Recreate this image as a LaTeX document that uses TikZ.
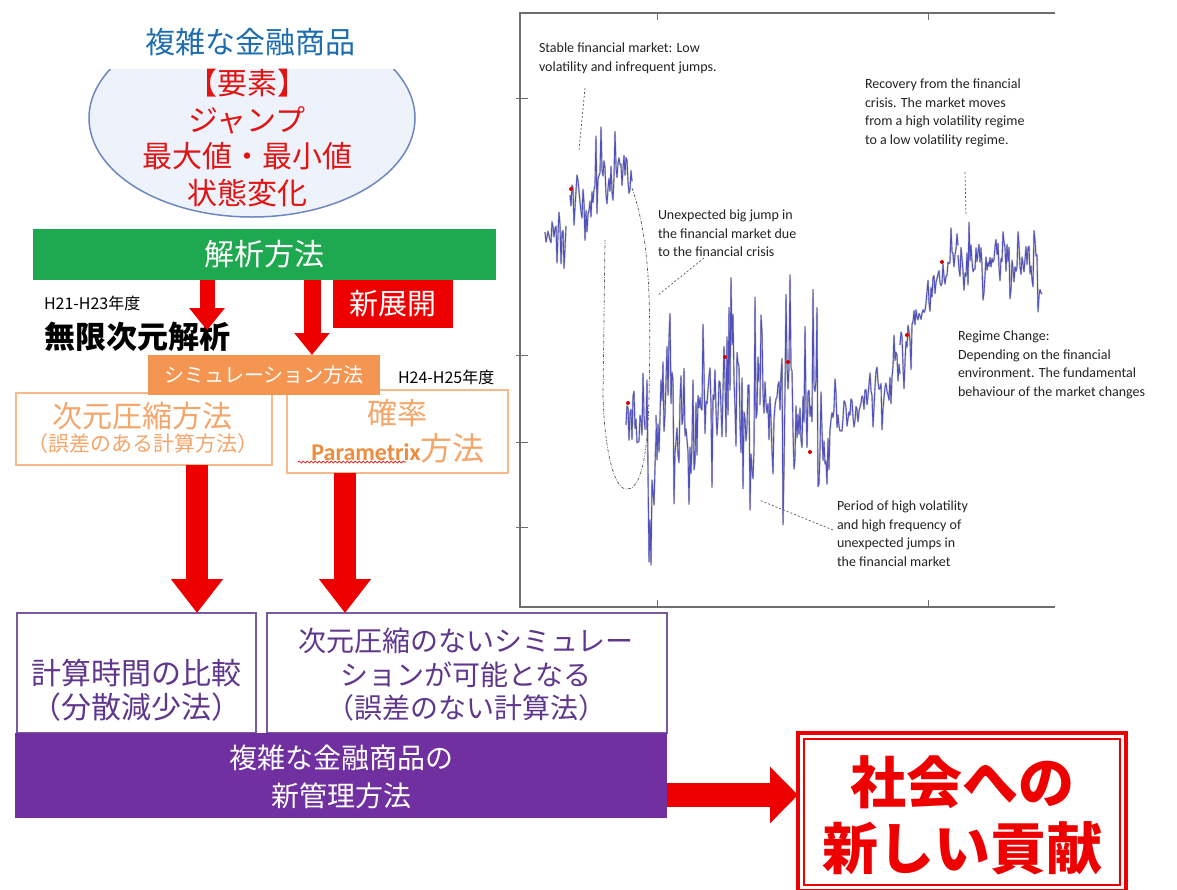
\documentclass[tikz,border=0pt]{standalone}
\usepackage{fontspec}
\setmainfont{Noto Sans CJK JP}
\newfontfamily\jp{Noto Sans CJK JP}
\newfontfamily\lat{Carlito}
\usetikzlibrary{arrows.meta,decorations.pathmorphing,shapes.geometric}
\definecolor{ttlblue}{RGB}{30,110,175}
\definecolor{elred}{RGB}{225,20,20}
\definecolor{arred}{RGB}{238,0,0}
\definecolor{grn}{RGB}{30,168,80}
\definecolor{orfill}{RGB}{244,150,82}
\definecolor{ortext}{RGB}{244,165,105}
\definecolor{orline}{RGB}{245,185,140}
\definecolor{parcol}{RGB}{236,140,60}
\definecolor{purp}{RGB}{112,48,160}
\definecolor{purtext}{RGB}{95,55,140}
\definecolor{purline}{RGB}{120,90,160}
\definecolor{ellfill}{RGB}{238,243,251}
\definecolor{elldraw}{RGB}{110,135,190}
\definecolor{axiscol}{RGB}{110,110,110}
\definecolor{dblue}{RGB}{60,60,190}
\definecolor{anntext}{RGB}{35,35,35}
\definecolor{dashc}{RGB}{90,90,90}
\newcommand\fsz[2]{\fontsize{#1}{#2}\selectfont}
\newcommand\walk[5]{%
  \pgfmathsetmacro\wkN{int((#2-#1)/1.0)}%
  \xdef\wkY{#3}%
  \xdef\wkP{(#1,#3)}%
  \foreach \wki in {1,...,\wkN}{%
    \pgfmathsetmacro\wkX{#1+\wki*(#2-#1)/\wkN}%
    \pgfmathsetmacro\wkM{#3+(#4-#3)*\wki/\wkN}%
    \pgfmathsetmacro\wkR{rnd<0.18 ? 2.3 : 0.8}%
    \pgfmathsetmacro\wkYn{\wkY+0.6*(\wkM-\wkY)+#5*\wkR*rand}%
    \xdef\wkY{\wkYn}%
    \xdef\wkP{\wkP -- (\wkX,\wkYn)}%
  }%
  \edef\wkCmd{\noexpand\draw[datashadow] \wkP; \noexpand\draw[dataline] \wkP;}\wkCmd
}
\begin{document}
\begin{tikzpicture}[x=1pt,y=-1pt,
  every node/.style={inner sep=0pt, outer sep=0pt},
  arrS/.style={draw=arred, line width=15pt, -{Triangle[length=22pt,width=34pt]}},
  arrB/.style={draw=arred, line width=22pt, -{Triangle[length=34pt,width=50pt]}},
  arrR/.style={draw=arred, line width=24pt, -{Triangle[length=28pt,width=55pt]}},
  obox/.style={draw=orline, line width=1.2pt, fill=white},
  pbox/.style={draw=purline, line width=1.2pt, fill=white},
  ann/.style={anchor=north west, align=left, text=anntext, font=\lat\fsz{14}{18.5}},
  datashadow/.style={draw=gray!45, line width=1.8pt, line join=round},
  dataline/.style={draw=dblue, line width=0.9pt, opacity=0.85, line join=round},
  rdot/.style={fill=red!85!black, inner sep=0pt, minimum size=4pt, circle},
  dsh/.style={draw=dashc, line width=0.7pt, dash pattern=on 2pt off 2pt},
]
\useasboundingbox (0,0) rectangle (1177,889);
\fill[white] (0,0) rectangle (1177,889);

% ===== chart =====
\draw[axiscol, line width=1.3pt] (1055,13) -- (520,13) -- (520,607) -- (1055,607);
\foreach \tx in {657,928} {
  \draw[axiscol, line width=1pt] (\tx,13) -- (\tx,20);
  \draw[axiscol, line width=1pt] (\tx,607) -- (\tx,600);
}
\foreach \ty in {98,355,442,527} {
  \draw[axiscol, line width=1pt] (516,\ty) -- (528,\ty);
}
\pgfmathsetseed{4242}
\walk{545}{566}{232}{235}{20}
\walk{570}{632}{195}{172}{24}
\walk{626}{646}{425}{425}{28}
\draw[datashadow] (646,430) -- (647,380) -- (648,470) -- (649,562) -- (650,520) -- (651,565) -- (652,480) -- (654,505) -- (656,430);
\draw[dataline] (646,430) -- (647,380) -- (648,470) -- (649,562) -- (650,520) -- (651,565) -- (652,480) -- (654,505) -- (656,430);
\walk{656}{760}{415}{405}{60}
\walk{760}{830}{405}{430}{60}
\walk{830}{900}{430}{365}{22}
\walk{900}{958}{345}{245}{18}
\walk{958}{1042}{255}{268}{22}
\foreach \p [count=\k] in {(571,189),(628,403),(725,357),(788,362),(810,452),(907,335),(942,262)} {
  \node[rdot] (rd\k) at \p {};
}
% annotations
\node[ann] (a1) at (539,43) {Stable financial market: Low\\volatility and infrequent jumps.};
\node[ann] (a2) at (865,79) {Recovery from the financial\\crisis. The market moves\\from a high volatility regime\\to a low volatility regime.};
\node[ann] (a3) at (658,210) {Unexpected big jump in\\the financial market due\\to the financial crisis};
\node[ann] (a4) at (958,331) {Regime Change:\\Depending on the financial\\environment. The fundamental\\behaviour of the market changes};
\node[ann] (a5) at (837,501) {Period of high volatility\\and high frequency of\\unexpected jumps in\\the financial market};
\coordinate (p1) at (579,150);
\coordinate (p3) at (658,295);
\coordinate (p2) at (966,216);
\coordinate (p5) at (759,500);
\draw[dsh] (585,88) -- (p1);
\draw[dsh] (704,258) -- (p3);
\draw[dsh] (965,172) -- (p2);
\draw[dsh] (833,530) -- (p5);
\draw[draw=dashc, line width=0.7pt, dash pattern=on 3pt off 1.5pt on 0.8pt off 1.5pt]
  (632,188) .. controls (650,240) and (651,300) .. (649,400)
  .. controls (647,470) and (638,490) .. (626,489)
  .. controls (612,488) and (604,440) .. (603,395) -- (605,240);

% ===== left diagram =====
\node[ellipse, draw=elldraw, line width=1.5pt, fill=ellfill, minimum width=326pt, minimum height=198pt] (ell) at (252,118) {};
\node[fill=white, minimum width=290pt, minimum height=54pt, text=ttlblue, font=\jp\fsz{30}{36}] (title) at (250,42) {複雑な金融商品};
\node[align=center, text=elred, font=\jp\fsz{30}{36.8}] (elems) at (247,138) {【要素】\\ジャンプ\\最大値・最小値\\状態変化};

\node[fill=grn, minimum width=463pt, minimum height=51pt, text=white, font=\jp\fsz{30}{36}] (ana) at (264.5,254.5) {解析方法};
\node[fill=arred, minimum width=120pt, minimum height=48pt, text=white, font=\jp\fsz{29}{34}] (shin) at (393,304) {新展開};
\node[anchor=west, font=\jp\fsz{16}{18}] (h21) at (44,303) {H21-H23年度};
\node[anchor=west, font=\jp\bfseries\fsz{31}{36}] (mugen) at (44,337) {無限次元解析};

\node[obox, minimum width=256pt, minimum height=72pt] (dimbox) at (144,429) {};
\node[obox, minimum width=221pt, minimum height=83pt] (probbox) at (397.5,431.5) {};
\node[fill=orfill, minimum width=232pt, minimum height=40pt, text=white, font=\jp\fsz{20}{24}] (sim) at (264,375) {シミュレーション方法};
\node[anchor=west, font=\jp\fsz{16}{18}] (h24) at (398,377) {H24-H25年度};

\node[text=ortext, font=\jp\fsz{30}{36}] (dimt1) at (142,416) {次元圧縮方法};
\node[text=ortext, font=\jp\fsz{21}{24}] (dimt2) at (143,444) {（誤差のある計算方法）};
\node[text=ortext, font=\jp\fsz{30}{36}] (prob1) at (397,413) {確率};
\node[font=\jp\fsz{32}{36}] (param) at (398,448) {\textcolor{parcol}{\lat\bfseries\fsz{24}{28}Parametrix}\textcolor{ortext}{方法}};
\draw[red, line width=0.7pt, decorate, decoration={snake, amplitude=1pt, segment length=4pt}] (298,462) -- (406,462);

\coordinate (xa1) at (207,0);
\coordinate (xa2) at (312,0);
\draw[arrS] (ana.south -| xa1) -- ([yshift=-8pt]mugen.north -| xa1);
\draw[arrS, line width=17pt] (ana.south -| xa2) -- (sim.north -| xa2);

% bottom
\node[pbox, minimum width=239pt, minimum height=120pt] (calcbox) at (136.5,673) {};
\node[pbox, minimum width=400pt, minimum height=120pt] (nobox) at (467,673) {};
\node[align=center, text=purtext, font=\jp\fsz{30}{34}] (calct) at (136,690) {計算時間の比較\\（分散減少法）};
\node[align=center, text=purtext, font=\jp\fsz{28}{33.5}] (not) at (466,675) {次元圧縮のないシミュレー\\ションが可能となる\\（誤差のない計算法）};
\node[fill=purp, minimum width=652pt, minimum height=85pt] (mgmt) at (341,775.5) {};
\node[align=center, text=white, font=\jp\fsz{28}{38}] (mgmtt) at (341,777) {複雑な金融商品の\\新管理方法};

\coordinate (xb1) at (197,0);
\coordinate (xb2) at (345,0);
\draw[arrB] (dimbox.south -| xb1) -- (calcbox.north -| xb1);
\draw[arrB] (probbox.south -| xb2) -- (nobox.north -| xb2);

\node[draw=arred, line width=4pt, fill=white, minimum width=328pt, minimum height=158pt] (contrib) at (962,812) {};
\draw[arred, line width=1.2pt] ([shift={(6,6)}]contrib.north west) rectangle ([shift={(-6,-6)}]contrib.south east);
\node[align=center, text=arred, font=\jp\bfseries\fsz{56}{66}] (contribt) at (962,815) {社会への\\新しい貢献};
\coordinate (yr) at (0,795);
\draw[arrR] (mgmt.east |- yr) -- (contrib.west |- yr);
\end{tikzpicture}
\end{document}
